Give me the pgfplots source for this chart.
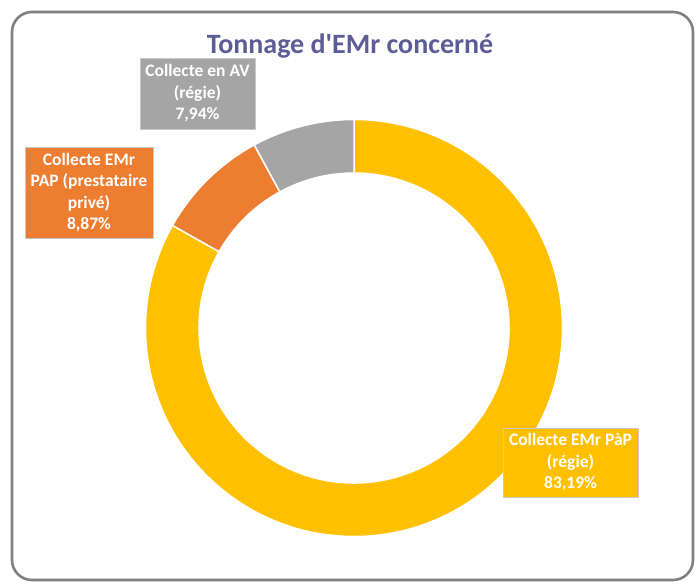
\documentclass[border=0pt]{standalone}
\usepackage{pgfplots}
\usepackage{pgfplotstable}
\pgfplotsset{compat=1.18}
\usetikzlibrary{calc}
\usepackage{fontspec}
\setmainfont{Carlito}
\definecolor{cYellow}{HTML}{FFC000}
\definecolor{cOrange}{HTML}{ED7D31}
\definecolor{cGray}{HTML}{A5A5A5}
\definecolor{cTitle}{RGB}{92,92,150}
\definecolor{cFrame}{HTML}{808080}
\definecolor{cBoxLine}{HTML}{C8C8C8}

\tikzset{lbl/.style={text=white, font=\fontsize{17.5}{21.5}\selectfont\bfseries,
     align=center, inner sep=0pt, draw=cBoxLine, line width=0.8pt}}

\pgfplotstableread{
name pct
PaP 83.19
PAP 8.87
AV 7.94
}\datatable
\pgfplotstablegetelem{0}{pct}\of\datatable \let\pA\pgfplotsretval
\pgfplotstablegetelem{1}{pct}\of\datatable \let\pB\pgfplotsretval
\pgfplotstablegetelem{2}{pct}\of\datatable \let\pC\pgfplotsretval
\pgfmathsetmacro\aA{90}
\pgfmathsetmacro\aB{\aA-3.6*\pA}
\pgfmathsetmacro\aC{\aB-3.6*\pB}
\pgfmathsetmacro\aD{\aC-3.6*\pC}

\newcommand\ringsector[3]{%
  \fill[#1, draw=white, line width=1.5pt]
    ($(axis cs:354,256)+(#2:208.5pt)$) arc[start angle=#2, end angle=#3, radius=208.5pt]
    -- ($(axis cs:354,256)+(#3:155pt)$) arc[start angle=#3, end angle=#2, radius=155pt] -- cycle;}

\begin{document}
\begin{tikzpicture}
\begin{axis}[
  at={(0,0)}, anchor=south west,
  scale only axis, width=699pt, height=584pt,
  xmin=0, xmax=699, ymin=0, ymax=584,
  enlargelimits=false, hide axis, clip=false,
]
\path (axis cs:0,0) rectangle (axis cs:699,584);
\draw[cFrame, line width=2.6pt, rounded corners=20pt] (axis cs:12,4) rectangle (axis cs:693,572);
\node[anchor=base, text=cTitle, font=\fontsize{28}{31}\selectfont\bfseries] at (axis cs:350,530) {Tonnage d\textquotesingle EMr concerné};
\ringsector{cYellow}{\aA}{\aB}
\ringsector{cOrange}{\aB}{\aC}
\ringsector{cGray}{\aC}{\aD}
\node[lbl, fill=cGray, minimum width=115pt, minimum height=71pt] at (axis cs:197.5,490.5) {Collecte en AV\\(régie)\\7,94\%};
\node[lbl, fill=cOrange, minimum width=128pt, minimum height=91pt] at (axis cs:89,391.5) {Collecte EMr\\PAP (prestataire\\privé)\\8,87\%};
\node[lbl, fill=cYellow, minimum width=135pt, minimum height=69pt] at (axis cs:570.5,121.5) {Collecte EMr PàP\\(régie)\\83,19\%};
\end{axis}
\end{tikzpicture}
\end{document}
